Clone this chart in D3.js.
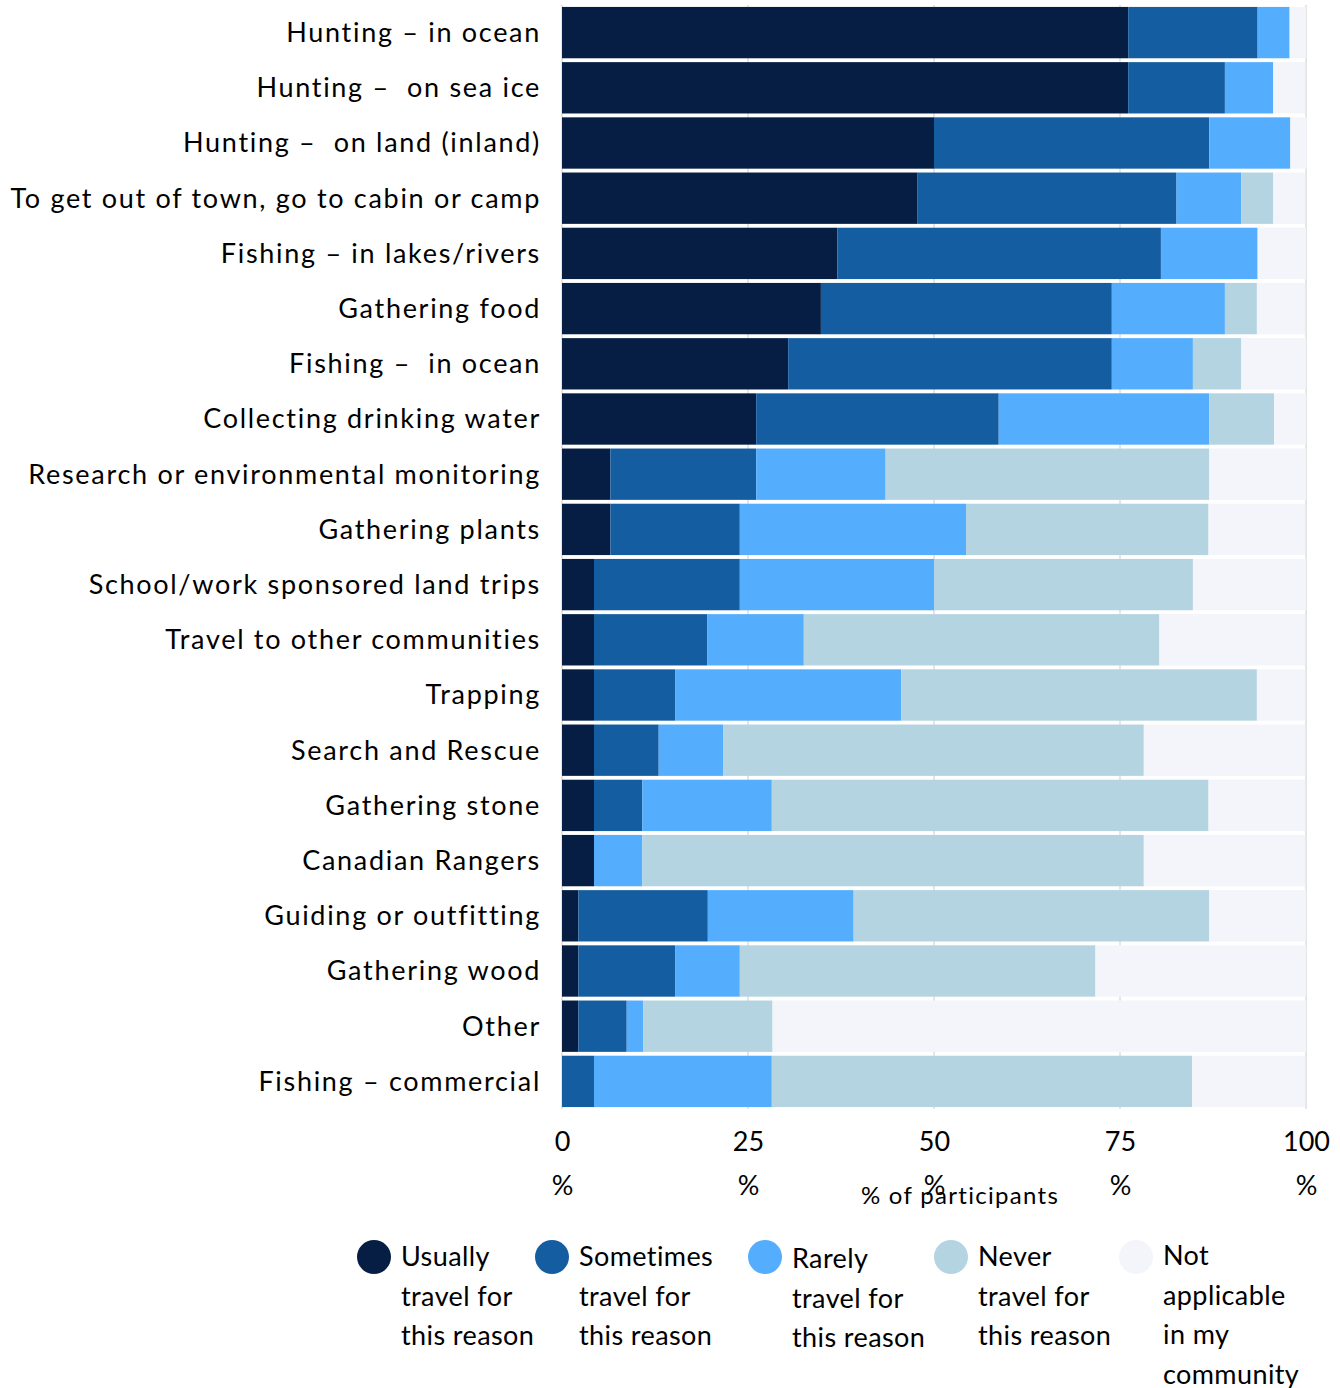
<!DOCTYPE html>
<html><head><meta charset="utf-8">
<script src="https://cdn.jsdelivr.net/npm/d3@7"></script>
<style>
body{margin:0;background:#fff;}
text{font-family:Lato,"Open Sans",sans-serif;fill:#000;}
</style></head>
<body><svg id="chart" width="1340" height="1388"></svg>
<script>
const categories = ["Hunting – in ocean","Hunting –  on sea ice","Hunting –  on land (inland)","To get out of town, go to cabin or camp","Fishing – in lakes/rivers","Gathering food","Fishing –  in ocean","Collecting drinking water","Research or environmental monitoring","Gathering plants","School/work sponsored land trips","Travel to other communities","Trapping","Search and Rescue","Gathering stone","Canadian Rangers","Guiding or outfitting","Gathering wood","Other","Fishing – commercial"];
const usually   = [76.1,76.1,50.0,47.8,37.0,34.8,30.4,26.1,6.5,6.5,4.3,4.3,4.3,4.3,4.3,4.3,2.2,2.2,2.2,0];
const sometimes = [17.4,13.0,37.0,34.8,43.5,39.1,43.5,32.6,19.6,17.4,19.6,15.2,10.9,8.7,6.5,0,17.4,13.0,6.5,4.3];
const rarely    = [4.3,6.5,10.9,8.7,13.0,15.2,10.9,28.3,17.4,30.4,26.1,13.0,30.4,8.7,17.4,6.5,19.6,8.7,2.2,23.9];
const never     = [0,0,0,4.3,0,4.3,6.5,8.7,43.5,32.6,34.8,47.8,47.8,56.5,58.7,67.4,47.8,47.8,17.4,56.5];
const notApplicable = [2.2,4.3,2.2,4.3,6.5,6.5,8.7,4.3,13.0,13.0,15.2,19.6,6.5,21.7,13.0,21.7,13.0,28.3,71.7,15.2];
const seriesKeys = ["usually","sometimes","rarely","never","na"];
const seriesLabels = [["Usually","travel for","this reason"],["Sometimes","travel for","this reason"],["Rarely","travel for","this reason"],["Never","travel for","this reason"],["Not","applicable","in my","community"]];
const colors = ["#061e44","#155da1","#54adfd","#b3d4e0","#f4f5fa"];
const tickValues = [0,25,50,75,100];
const axisTitle = "% of participants";

const rows = categories.map((c,i)=>({cat:c,usually:usually[i],sometimes:sometimes[i],rarely:rarely[i],never:never[i],na:notApplicable[i]}));
const svg = d3.select("#chart");
const x = d3.scaleLinear().domain([0,100]).range([562,1306]);
const y = d3.scaleBand().domain(categories).range([5,1109]).paddingInner(0.07).paddingOuter(0.035);
const color = d3.scaleOrdinal().domain(seriesKeys).range(colors);

// gridlines
svg.append("g").selectAll("line").data(tickValues).join("line")
  .attr("x1",d=>x(d)).attr("x2",d=>x(d)).attr("y1",5).attr("y2",1109)
  .attr("stroke","#cccccc").attr("stroke-width",1);

const stack = d3.stack().keys(seriesKeys)(rows);
svg.append("g").selectAll("g").data(stack).join("g")
  .attr("fill",d=>color(d.key))
  .selectAll("rect").data(d=>d).join("rect")
  .attr("x",d=>x(d[0])).attr("width",d=>Math.max(0,x(d[1])-x(d[0])))
  .attr("y",d=>y(d.data.cat)).attr("height",y.bandwidth());

// category labels
svg.append("g").selectAll("text").data(categories).join("text")
  .attr("x",541).attr("y",d=>y(d)+y.bandwidth()/2).attr("dy","0.35em")
  .attr("text-anchor","end").style("white-space","pre")
  .attr("letter-spacing",1.7)
  .attr("font-size",27).text(d=>d);

// x axis
const xa = svg.append("g").attr("transform","translate(0,1109)")
  .call(d3.axisBottom(x).tickValues(tickValues).tickSize(0).tickFormat(d=>d));
xa.select(".domain").remove();
xa.selectAll(".tick text").each(function(d){
  const t = d3.select(this);
  t.text(null).attr("y",0).attr("dy",null).attr("font-size",27).attr("fill","#000")
   .style("font-family","Lato,'Open Sans',sans-serif");
  t.append("tspan").attr("x",0).attr("y",42).text(d);
  t.append("tspan").attr("x",0).attr("y",86).text("%");
});
svg.append("text").attr("x",960).attr("y",1204).attr("text-anchor","middle")
  .attr("font-size",24).attr("letter-spacing",1.3).text(axisTitle);

// legend
const legX = [374,552,765,951,1136];
const legDy = [0,0,2,0,-1];
const leg = svg.append("g").selectAll("g").data(seriesKeys).join("g")
  .attr("transform",(d,i)=>`translate(${legX[i]},1257)`);
leg.append("circle").attr("r",17).attr("fill",d=>color(d));
leg.append("text").attr("x",27).attr("font-size",27).attr("letter-spacing",0.4)
  .selectAll("tspan").data((d,i)=>seriesLabels[i].map(s=>({s,i}))).join("tspan")
  .attr("x",27).attr("y",(d,j)=>9+legDy[d.i]+j*39.5).text(d=>d.s);
</script></body></html>
